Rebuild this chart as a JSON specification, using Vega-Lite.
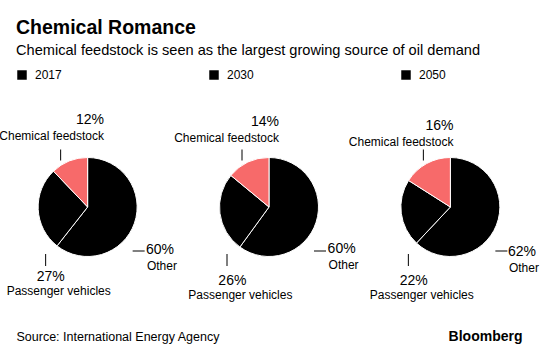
{
  "$schema": "https://vega.github.io/schema/vega-lite/v6.json",
  "width": 506,
  "height": 226,
  "autosize": {"type": "none"},
  "padding": {"left": 16, "top": 94, "right": 38, "bottom": 31},
  "background": "white",
  "title": {
    "text": "Chemical Romance",
    "subtitle": "Chemical feedstock is seen as the largest growing source of oil demand",
    "anchor": "start",
    "frame": "group",
    "font": "Liberation Sans",
    "fontSize": 19.5,
    "fontWeight": "bold",
    "color": "#000000",
    "subtitleFont": "Liberation Sans",
    "subtitleFontSize": 14.6,
    "subtitleColor": "#000000",
    "subtitlePadding": 5,
    "offset": 10
  },
  "data": {
    "values": [
      {"year": "2017", "category": "Other", "share": 0.60},
      {"year": "2017", "category": "Passenger vehicles", "share": 0.27},
      {"year": "2017", "category": "Chemical feedstock", "share": 0.12},
      {"year": "2030", "category": "Other", "share": 0.60},
      {"year": "2030", "category": "Passenger vehicles", "share": 0.26},
      {"year": "2030", "category": "Chemical feedstock", "share": 0.14},
      {"year": "2050", "category": "Other", "share": 0.62},
      {"year": "2050", "category": "Passenger vehicles", "share": 0.22},
      {"year": "2050", "category": "Chemical feedstock", "share": 0.16}
    ]
  },
  "transform": [
    {"stack": "share", "groupby": ["year"], "sort": [{"field": "share", "order": "descending"}], "offset": "normalize", "as": ["v0", "v1"]},
    {"calculate": "(datum.v0 + datum.v1) / 2", "as": "mid"}
  ],
  "resolve": {"axis": {"x": "independent"}},
  "layer": [
    {
      "mark": {"type": "arc", "radius": 49.5, "stroke": "#ffffff", "strokeWidth": 1},
      "encoding": {
        "x": {
          "field": "year", "type": "nominal",
          "scale": {"type": "point", "padding": 0.395},
          "axis": {
            "orient": "bottom", "labels": false, "ticks": false, "domain": false, "grid": false,
            "title": "Source: International Energy Agency",
            "titleAnchor": "start", "titleAlign": "left", "titleBaseline": "alphabetic",
            "titleFont": "Liberation Sans", "titleFontSize": 12.5, "titleFontWeight": "normal",
            "titleColor": "#000000", "titlePadding": 20
          }
        },
        "theta": {"field": "v0", "type": "quantitative", "scale": {"domain": [0, 1]}},
        "theta2": {"field": "v1"},
        "color": {
          "field": "category", "type": "nominal",
          "scale": {"domain": ["Other", "Passenger vehicles", "Chemical feedstock"], "range": ["#000000", "#000000", "#f76a6a"]},
          "legend": null
        }
      }
    },
    {
      "mark": {"type": "point", "filled": true, "opacity": 0, "shape": "square"},
      "encoding": {
        "x": {
          "field": "year", "type": "nominal",
          "axis": {
            "orient": "bottom", "labels": false, "ticks": false, "domain": false, "grid": false,
            "title": "Bloomberg",
            "titleAnchor": "end", "titleAlign": "right", "titleBaseline": "alphabetic",
            "titleFont": "Liberation Sans", "titleFontSize": 14, "titleFontWeight": "bold",
            "titleColor": "#000000", "titlePadding": 20
          }
        },
        "fill": {
          "field": "year", "type": "nominal",
          "scale": {"range": ["#000000", "#000000", "#000000"]},
          "legend": {
            "orient": "top", "direction": "horizontal", "title": null,
            "symbolType": "square", "symbolSize": 90, "symbolOpacity": 1,
            "symbolFillColor": "#000000", "symbolStrokeWidth": 0,
            "labelFont": "Liberation Sans", "labelFontSize": 12, "labelColor": "#000000",
            "labelOffset": 7, "columnPadding": 146, "padding": 0, "offset": 13
          }
        }
      }
    },
    {
      "transform": [{"filter": "datum.category === 'Chemical feedstock'"}],
      "mark": {"type": "text", "radius": 120, "align": "right", "baseline": "middle", "dx": 61, "dy": 24, "font": "Liberation Sans", "fontSize": 14, "color": "#000000"},
      "encoding": {
        "x": {"field": "year", "type": "nominal", "axis": null},
        "theta": {"field": "mid", "type": "quantitative"},
        "text": {"field": "share", "type": "quantitative", "format": ".0%"}
      }
    },
    {
      "transform": [{"filter": "datum.category === 'Chemical feedstock'"}],
      "mark": {"type": "text", "radius": 120, "align": "right", "baseline": "middle", "dx": 61, "dy": 40, "font": "Liberation Sans", "fontSize": 12, "color": "#000000"},
      "encoding": {
        "x": {"field": "year", "type": "nominal", "axis": null},
        "theta": {"field": "mid", "type": "quantitative"},
        "text": {"field": "category", "type": "nominal"}
      }
    },
    {
      "transform": [{"filter": "datum.category === 'Chemical feedstock'"}],
      "mark": {"type": "tick", "orient": "vertical", "size": 11, "thickness": 1, "color": "#000000", "opacity": 1, "xOffset": -27, "yOffset": -52},
      "encoding": {
        "x": {"field": "year", "type": "nominal", "axis": null}
      }
    },
    {
      "transform": [{"filter": "datum.category === 'Passenger vehicles'"}],
      "mark": {"type": "text", "radius": 49, "align": "center", "baseline": "middle", "dx": 12, "dy": 68, "font": "Liberation Sans", "fontSize": 14, "color": "#000000"},
      "encoding": {
        "x": {"field": "year", "type": "nominal", "axis": null},
        "theta": {"field": "mid", "type": "quantitative"},
        "text": {"field": "share", "type": "quantitative", "format": ".0%"}
      }
    },
    {
      "transform": [{"filter": "datum.category === 'Passenger vehicles'"}],
      "mark": {"type": "text", "radius": 49, "align": "center", "baseline": "middle", "dx": 20, "dy": 82, "font": "Liberation Sans", "fontSize": 12, "color": "#000000"},
      "encoding": {
        "x": {"field": "year", "type": "nominal", "axis": null},
        "theta": {"field": "mid", "type": "quantitative"},
        "text": {"field": "category", "type": "nominal"}
      }
    },
    {
      "transform": [{"filter": "datum.category === 'Passenger vehicles'"}],
      "mark": {"type": "tick", "orient": "vertical", "size": 12, "thickness": 1, "color": "#000000", "opacity": 1, "xOffset": -42, "yOffset": 53},
      "encoding": {
        "x": {"field": "year", "type": "nominal", "axis": null}
      }
    },
    {
      "transform": [{"filter": "datum.category === 'Other'"}],
      "mark": {"type": "text", "radius": 49, "align": "left", "baseline": "middle", "dx": 12, "dy": 27, "font": "Liberation Sans", "fontSize": 14, "color": "#000000"},
      "encoding": {
        "x": {"field": "year", "type": "nominal", "axis": null},
        "theta": {"field": "mid", "type": "quantitative"},
        "text": {"field": "share", "type": "quantitative", "format": ".0%"}
      }
    },
    {
      "transform": [{"filter": "datum.category === 'Other'"}],
      "mark": {"type": "text", "radius": 49, "align": "left", "baseline": "middle", "dx": 13, "dy": 43, "font": "Liberation Sans", "fontSize": 12, "color": "#000000"},
      "encoding": {
        "x": {"field": "year", "type": "nominal", "axis": null},
        "theta": {"field": "mid", "type": "quantitative"},
        "text": {"field": "category", "type": "nominal"}
      }
    },
    {
      "transform": [{"filter": "datum.category === 'Other'"}],
      "mark": {"type": "tick", "orient": "horizontal", "size": 12, "thickness": 1, "color": "#000000", "opacity": 1, "xOffset": 51, "yOffset": 44},
      "encoding": {
        "x": {"field": "year", "type": "nominal", "axis": null}
      }
    }
  ],
  "config": {"view": {"stroke": null}}
}
